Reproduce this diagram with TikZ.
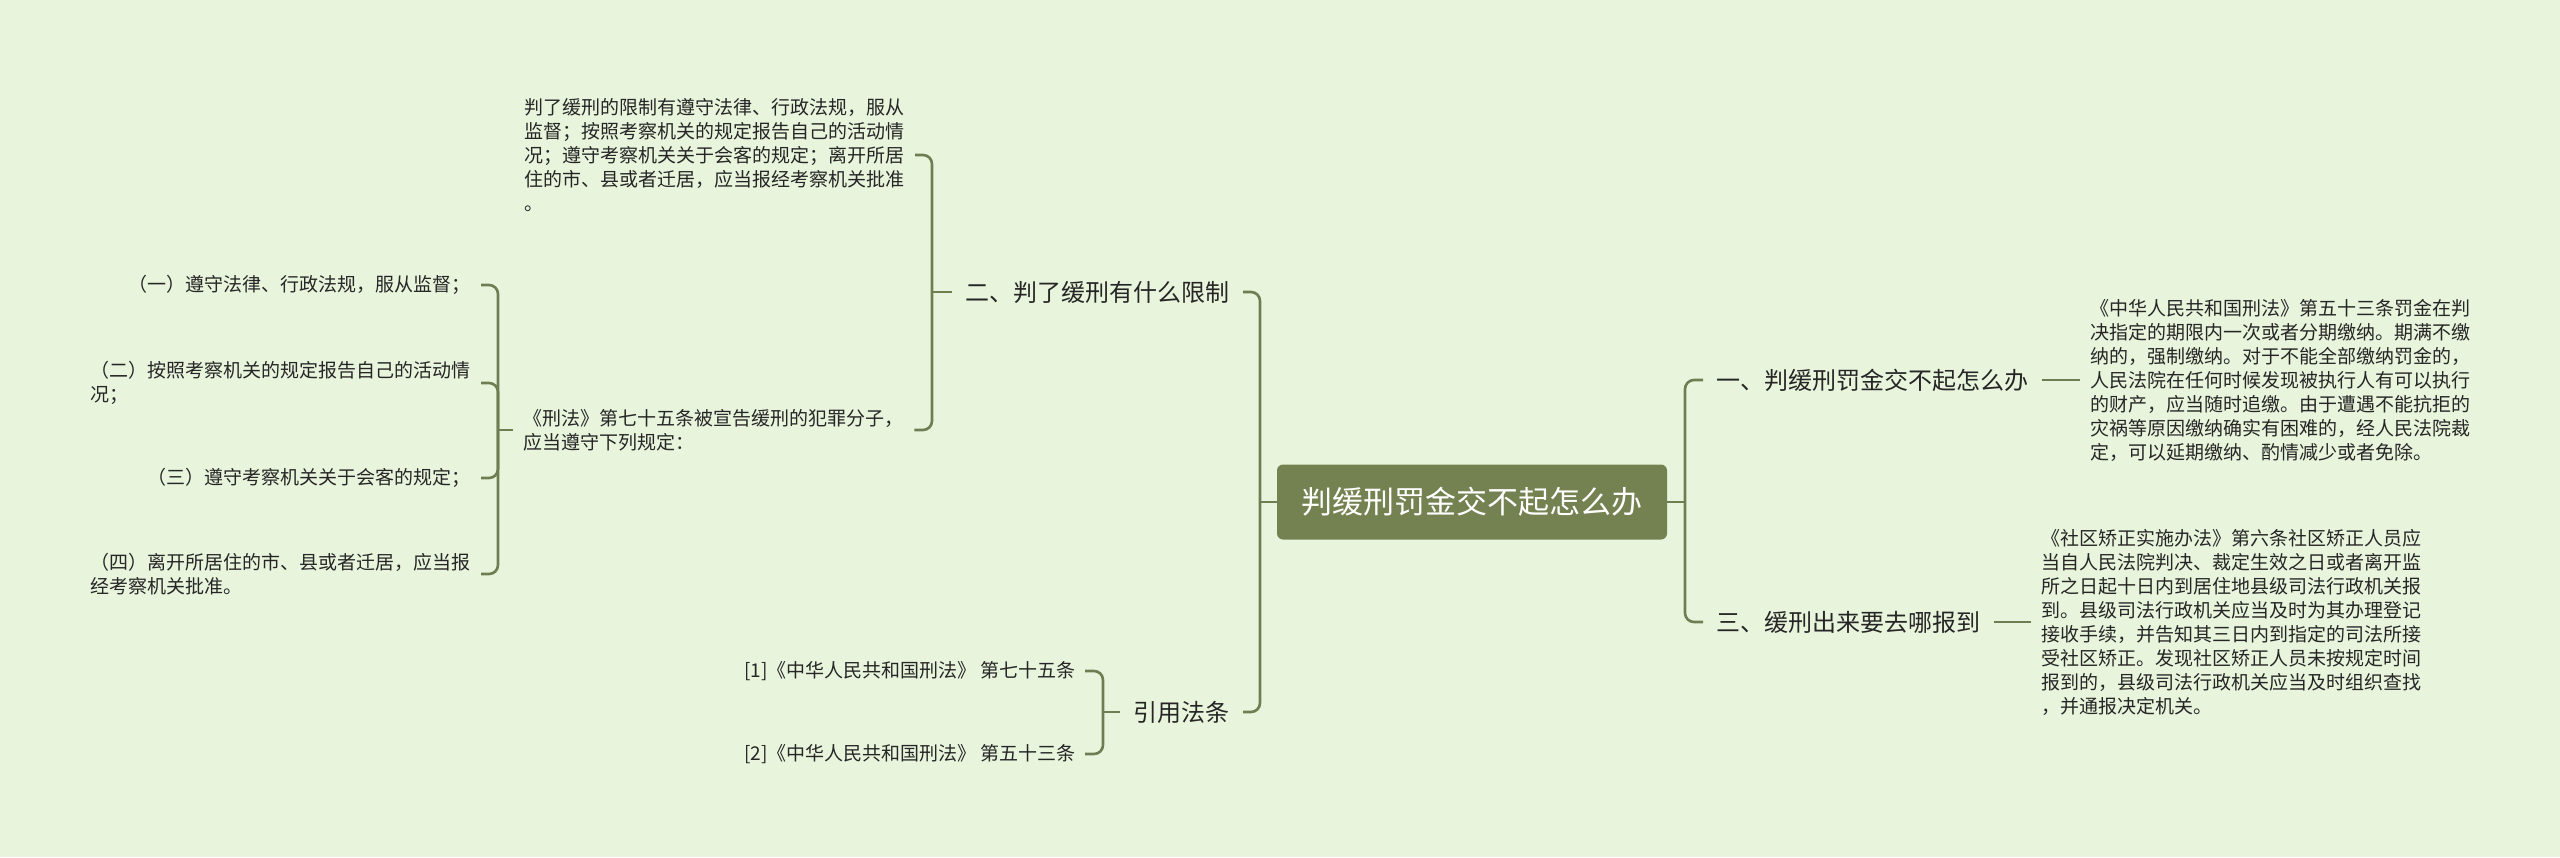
\documentclass[tikz,border=0pt]{standalone}
\usepackage{fontspec}
\setmainfont{Noto Sans CJK SC}
\usepackage{tikz}
\definecolor{bgc}{RGB}{232,244,220}
\definecolor{linec}{RGB}{112,125,82}
\definecolor{rootc}{RGB}{116,130,82}
\definecolor{txtc}{RGB}{38,38,38}

\begin{document}
\begin{tikzpicture}[x=1pt,y=-1pt,
  link/.style={draw=linec,line width=2.6pt,rounded corners=9pt},
  root/.style={fill=rootc,text=white,rounded corners=6pt,minimum width=390pt,minimum height=75pt,font=\fontsize{31}{36}\selectfont},
  topic/.style={text=txtc,inner xsep=13.5pt,font=\fontsize{24}{28}\selectfont},
  leaf/.style={text=txtc,inner xsep=10.5pt,align=left,font=\fontsize{19}{24}\selectfont}]
\useasboundingbox (0,0) rectangle (2560,857);
\fill[bgc] (0,0) rectangle (2560,857);
% centre
\node[root] (root) at (1472,502) {判缓刑罚金交不起怎么办};
% left side
\node[topic,anchor=east] (lim) at (1243,292) {二、判了缓刑有什么限制};
\node[topic,anchor=east] (cite) at (1243,712) {引用法条};
\node[leaf,anchor=east] (limtext) at (915,155) {判了缓刑的限制有遵守法律、行政法规，服从\\监督；按照考察机关的规定报告自己的活动情\\况；遵守考察机关关于会客的规定；离开所居\\住的市、县或者迁居，应当报经考察机关批准\\。};
\node[leaf,anchor=west] (xingfa) at (513,430) {《刑法》第七十五条被宣告缓刑的犯罪分子，\\应当遵守下列规定：};
\node[leaf,anchor=east] (r1) at (481,285) {（一）遵守法律、行政法规，服从监督；};
\node[leaf,anchor=east] (r2) at (481,383) {（二）按照考察机关的规定报告自己的活动情\\况；};
\node[leaf,anchor=east] (r3) at (481,478) {（三）遵守考察机关关于会客的规定；};
\node[leaf,anchor=east] (r4) at (481,574) {（四）离开所居住的市、县或者迁居，应当报\\经考察机关批准。};
\node[leaf,anchor=east,inner xsep=9pt] (law1) at (1085,671) {[1]《中华人民共和国刑法》 第七十五条};
\node[leaf,anchor=east,inner xsep=9pt] (law2) at (1085,754) {[2]《中华人民共和国刑法》 第五十三条};
% right side
\node[topic,anchor=west] (fine) at (1703,380) {一、判缓刑罚金交不起怎么办};
\node[topic,anchor=west] (report) at (1703,622) {三、缓刑出来要去哪报到};
\node[leaf,anchor=west] (finetext) at (2080,380) {《中华人民共和国刑法》第五十三条罚金在判\\决指定的期限内一次或者分期缴纳。期满不缴\\纳的，强制缴纳。对于不能全部缴纳罚金的，\\人民法院在任何时候发现被执行人有可以执行\\的财产，应当随时追缴。由于遭遇不能抗拒的\\灾祸等原因缴纳确实有困难的，经人民法院裁\\定，可以延期缴纳、酌情减少或者免除。};
\node[leaf,anchor=west] (reporttext) at (2031,622) {《社区矫正实施办法》第六条社区矫正人员应\\当自人民法院判决、裁定生效之日或者离开监\\所之日起十日内到居住地县级司法行政机关报\\到。县级司法行政机关应当及时为其办理登记\\接收手续，并告知其三日内到指定的司法所接\\受社区矫正。发现社区矫正人员未按规定时间\\报到的，县级司法行政机关应当及时组织查找\\，并通报决定机关。};
% junctions
\coordinate (jl) at (1260,502);
\coordinate (jr) at (1685,502);
\coordinate (jlim) at (932,292);
\coordinate (jxf) at (498,430);
\coordinate (jcite) at (1103,712);
% connectors
\draw[link] (root.west) -- (jl);
\draw[link] (jl) |- (lim.east);
\draw[link] (jl) |- (cite.east);
\draw[link] (root.east) -- (jr);
\draw[link] (jr) |- (fine.west);
\draw[link] (jr) |- (report.west);
\draw[link] (fine.east) -- (finetext.west);
\draw[link] (report.east) -- (reporttext.west);
\draw[link] (lim.west) -- (jlim);
\draw[link] (jlim) |- (limtext.east);
\draw[link] (jlim) |- (xingfa.east);
\draw[link] (xingfa.west) -- (jxf);
\foreach \r in {r1,r2,r3,r4} \draw[link] (jxf) |- (\r.east);
\draw[link] (cite.west) -- (jcite);
\draw[link] (jcite) |- (law1.east);
\draw[link] (jcite) |- (law2.east);
\end{tikzpicture}
\end{document}
